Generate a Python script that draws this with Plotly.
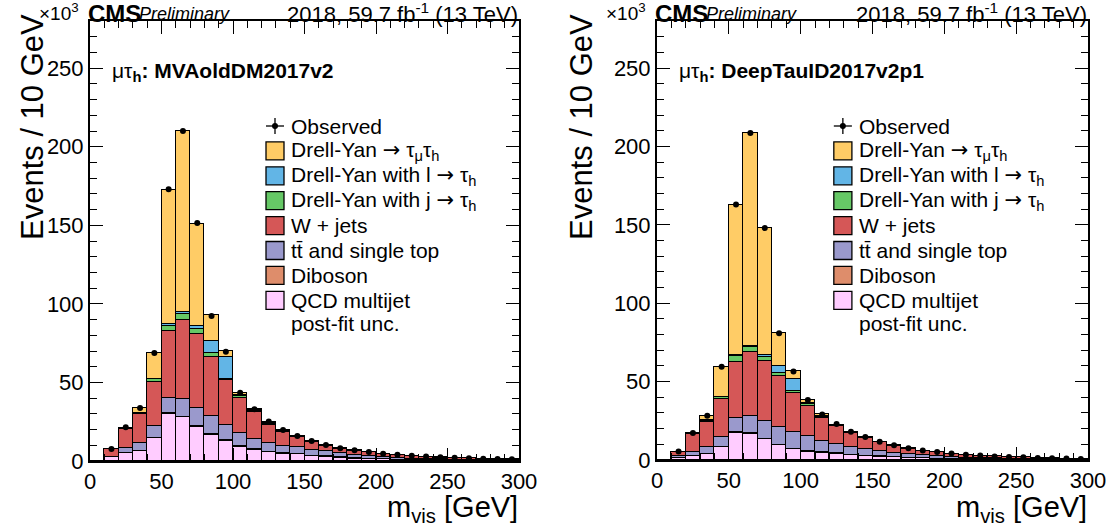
import plotly.graph_objects as go

W, H = 1112, 531
bin_lo = list(range(0, 300, 10))
bin_c = [b + 5 for b in bin_lo]

# ---------------- left panel: MVAoldDM2017v2 (values in 10^3 events) ----------------
qcd_L = [0, 2.3, 5.1, 6.3, 14.4, 30.2, 27.7, 21.8, 16.5, 12.9, 9.1, 7.0, 5.5, 4.7, 4.4, 3.2, 2.7, 2.1, 1.5, 1.2, 1.0, 0.8, 0.6, 0.5, 0.4, 0.35, 0.3, 0.25, 0.2, 0.2]
vv_L = [0, 0.05, 0.1, 0.15, 0.2, 0.3, 0.4, 0.5, 0.5, 0.5, 0.45, 0.4, 0.35, 0.3, 0.3, 0.25, 0.2, 0.2, 0.15, 0.15, 0.12, 0.1, 0.1, 0.08, 0.07, 0.06, 0.05, 0.05, 0.04, 0.04]
tt_L = [0, 0.25, 3.2, 5.15, 7.6, 9.9, 11.6, 11.5, 11.5, 9.6, 8.45, 6.5, 5.35, 4.7, 4.0, 3.55, 3.2, 2.6, 2.15, 1.65, 1.28, 1.0, 0.8, 0.62, 0.53, 0.39, 0.35, 0.3, 0.26, 0.16]
w_L = [0, 4.9, 11.9, 18.6, 28.1, 42.6, 49.8, 47.2, 37.9, 28.8, 22.0, 17.1, 12.0, 8.8, 6.6, 5.3, 3.7, 2.9, 2.8, 2.55, 2.1, 1.8, 1.6, 1.5, 1.22, 1.04, 0.95, 0.85, 0.76, 0.67]
dyj_L = [0, 0.0, 0.2, 0.4, 1.7, 3.0, 4.1, 3.2, 2.3, 0.7, 1.5, 0.8, 0.6, 0.5, 0.3, 0.2, 0.15, 0.1, 0.1, 0.08, 0.06, 0.05, 0.04, 0.04, 0.03, 0.03, 0.02, 0.02, 0.02, 0.02]
dyl_L = [0, 0.0, 0.1, 0.2, 0.3, 1.3, 1.3, 1.8, 7.8, 13.7, 0.8, 0.4, 0.5, 0.2, 0.2, 0.1, 0.1, 0.05, 0.05, 0.04, 0.03, 0.03, 0.02, 0.02, 0.02, 0.01, 0.01, 0.01, 0.01, 0.01]
dytt_L = [0, 0.1, 0.4, 3.0, 16.4, 85.0, 114.8, 65.1, 16.1, 3.6, 0.8, 0.6, 0.7, 0.3, 0.1, 0.1, 0.05, 0.05, 0.05, 0.03, 0.02, 0.02, 0.02, 0.02, 0.02, 0.01, 0.01, 0.01, 0.01, 0.01]
obs_L = [None, 7.6, 21.4, 33.8, 68.7, 173.0, 210.0, 151.5, 92.2, 69.5, 43.5, 33.0, 25.2, 19.7, 15.9, 12.8, 10.2, 8.1, 6.8, 5.7, 4.6, 3.9, 3.3, 2.8, 2.4, 2.0, 1.7, 1.5, 1.3, 1.1]

# ---------------- right panel: DeepTauID2017v2p1 ----------------
qcd_R = [0, 1.0, 2.5, 3.6, 8.4, 17.5, 16.9, 13.1, 9.3, 6.8, 5.3, 4.6, 3.8, 3.2, 2.5, 2.1, 1.7, 1.3, 1.0, 0.8, 0.6, 0.5, 0.4, 0.35, 0.3, 0.25, 0.2, 0.2, 0.15, 0.15]
vv_R = [0, 0.05, 0.1, 0.15, 0.2, 0.3, 0.4, 0.5, 0.5, 0.5, 0.45, 0.4, 0.35, 0.3, 0.3, 0.25, 0.2, 0.2, 0.15, 0.15, 0.12, 0.1, 0.1, 0.08, 0.07, 0.06, 0.05, 0.05, 0.04, 0.04]
tt_R = [0, 1.45, 2.7, 4.65, 6.2, 9.2, 10.7, 11.3, 11.1, 10.4, 9.45, 7.0, 5.95, 4.9, 4.4, 3.55, 2.7, 2.3, 1.85, 1.45, 1.18, 0.9, 0.7, 0.57, 0.43, 0.34, 0.3, 0.2, 0.16, 0.11]
w_R = [0, 2.8, 11.6, 15.9, 23.8, 35.8, 40.6, 38.0, 32.5, 24.9, 19.0, 15.0, 11.4, 8.9, 6.9, 5.3, 4.4, 3.35, 2.75, 2.57, 2.0, 1.82, 1.44, 1.25, 1.06, 1.02, 0.72, 0.62, 0.53, 0.38]
dyj_R = [0, 0, 0.05, 0.7, 1.4, 3.7, 3.4, 3.1, 2.1, 1.3, 1.3, 0.6, 0.5, 0.3, 0.25, 0.2, 0.15, 0.15, 0.08, 0.07, 0.05, 0.04, 0.03, 0.02, 0.02, 0.01, 0.01, 0.01, 0.01, 0.01]
dyl_R = [0, 0, 0.05, 0.2, 0.3, 0.6, 0.6, 0.9, 4.4, 7.8, 0.8, 0.5, 0.3, 0.2, 0.15, 0.1, 0.1, 0.05, 0.04, 0.04, 0.03, 0.02, 0.02, 0.02, 0.01, 0.01, 0.01, 0.01, 0.005, 0.005]
dytt_R = [0, 0, 0, 2.8, 19.2, 95.8, 135.8, 81.2, 20.9, 4.8, 2.1, 1.0, 0.3, 0.1, 0.1, 0.1, 0.05, 0.05, 0.03, 0.02, 0.02, 0.02, 0.01, 0.01, 0.01, 0.01, 0.01, 0.01, 0.005, 0.005]
obs_R = [None, 5.5, 17.3, 28.2, 59.5, 163.0, 208.5, 148.0, 80.8, 56.5, 38.2, 29.1, 23.0, 18.0, 14.7, 11.7, 9.4, 7.5, 6.0, 5.1, 4.1, 3.4, 2.8, 2.3, 1.9, 1.7, 1.3, 1.1, 0.9, 0.7]

ARROW = '<span style="font-family:DejaVu Sans">\u2192</span>'
names = ["QCD multijet", "Diboson", "tt\u0304 and single top", "W + jets",
         "Drell-Yan with j \u2192 \u03c4h", "Drell-Yan with l \u2192 \u03c4h",
         "Drell-Yan \u2192 \u03c4\u03bc\u03c4h"]
colors = ["#FFCCFF", "#DE8D6B", "#9A99CC", "#D55757", "#66C866", "#62B5E6", "#FFCC66"]
legend_labels = ["Drell-Yan " + ARROW + " \u03c4<sub>\u03bc</sub>\u03c4<sub>h</sub>",
                 "Drell-Yan with l " + ARROW + " \u03c4<sub>h</sub>",
                 "Drell-Yan with j " + ARROW + " \u03c4<sub>h</sub>",
                 "W + jets", "tt\u0304 and single top", "Diboson", "QCD multijet"]
legend_colors = ["#FFCC66", "#62B5E6", "#66C866", "#D55757", "#9A99CC", "#DE8D6B", "#FFCCFF"]

FONT = "Liberation Sans, Arial, sans-serif"
fig = go.Figure()

panels = [
    dict(xa="x", ya="y", comps=[qcd_L, vv_L, tt_L, w_L, dyj_L, dyl_L, dytt_L], obs=obs_L),
    dict(xa="x2", ya="y2", comps=[qcd_R, vv_R, tt_R, w_R, dyj_R, dyl_R, dytt_R], obs=obs_R),
]
for p in panels:
    for comp, nm, col in zip(p["comps"], names, colors):
        fig.add_trace(go.Bar(x=bin_c, y=comp, width=10, name=nm, xaxis=p["xa"], yaxis=p["ya"],
                             marker=dict(color=col, line=dict(color="black", width=1)),
                             showlegend=False))
    fig.add_trace(go.Scatter(x=bin_c, y=p["obs"], mode="markers", xaxis=p["xa"], yaxis=p["ya"],
                             marker=dict(color="black", size=6), showlegend=False, name="Observed"))

# plot areas in pixels
LX0, LX1, LY0, LY1 = 90, 519, 21, 461
RX0, RX1, RY0, RY1 = 657, 1088, 21, 460

def axis_common():
    return dict(showline=True, linecolor="black", linewidth=2, mirror="ticks",
                ticks="inside", ticklen=13, tickwidth=1.3, tickcolor="black",
                showgrid=False, zeroline=False, automargin=False,
                tickfont=dict(family=FONT, size=22, color="black"),
                minor=dict(ticks="inside", ticklen=7, tickwidth=1.2, tickcolor="black", dtick=10, showgrid=False))

ax = axis_common()
fig.update_layout(
    width=W, height=H, margin=dict(l=0, r=0, t=0, b=0, autoexpand=False),
    paper_bgcolor="white", plot_bgcolor="white",
    barmode="stack", bargap=0, showlegend=False,
    font=dict(family=FONT, color="black"),
    xaxis=dict(domain=[LX0 / W, LX1 / W], range=[0, 300], dtick=50, anchor="y", **ax),
    yaxis=dict(domain=[1 - LY1 / H, 1 - LY0 / H], range=[0, 280], dtick=50, anchor="x", **ax),
    xaxis2=dict(domain=[RX0 / W, RX1 / W], range=[0, 300], dtick=50, anchor="y2", **ax),
    yaxis2=dict(domain=[1 - RY1 / H, 1 - RY0 / H], range=[0, 280], dtick=50, anchor="x2", **ax),
)

shapes = []
annots = []

def px(x):
    return x / W

def py(y):
    return 1 - y / H

panel_info = [
    dict(x0=LX0, x1=LX1, y0=LY0, y1=LY1, ytitle_x=32, label="<b>: MVAoldDM2017v2</b>"),
    dict(x0=RX0, x1=RX1, y0=RY0, y1=RY1, ytitle_x=581, label="<b>: DeepTauID2017v2p1</b>"),
]
for pi in panel_info:
    sx = (pi["x1"] - pi["x0"]) / (LX1 - LX0)
    def mx(x):  # map left-panel pixel x to this panel
        return pi["x0"] + (x - LX0) * sx
    # header
    annots.append(dict(x=px(pi["x0"] - 9), y=py(12), xref="paper", yref="paper", xanchor="right", yanchor="middle",
                       text="\u00d710<sup>3</sup>", showarrow=False, font=dict(size=19, family=FONT)))
    annots.append(dict(x=px(pi["x0"] - 4), y=py(13), xref="paper", yref="paper", xanchor="left", yanchor="middle",
                       text="<b>CMS</b>", showarrow=False, font=dict(size=24, family=FONT)))
    annots.append(dict(x=px(pi["x0"] + 47), y=py(14), xref="paper", yref="paper", xanchor="left", yanchor="middle",
                       text="<i>Preliminary</i>", showarrow=False, font=dict(size=18, family=FONT)))
    annots.append(dict(x=px(pi["x1"] + 1), y=py(13), xref="paper", yref="paper", xanchor="right", yanchor="middle",
                       text="2018, 59.7 fb<sup>-1</sup> (13 TeV)", showarrow=False, font=dict(size=22, family=FONT)))
    # axis titles
    annots.append(dict(x=px(pi["ytitle_x"]), y=py(12), xref="paper", yref="paper", xanchor="center", yanchor="top",
                       text="Events / 10 GeV", textangle=-90, showarrow=False, font=dict(size=31, family=FONT)))
    annots.append(dict(x=px(pi["x1"] + 1), y=py(509), xref="paper", yref="paper", xanchor="right", yanchor="middle",
                       text="m<sub>vis</sub> [GeV]", showarrow=False, font=dict(size=29, family=FONT)))
    # category label
    annots.append(dict(x=px(mx(110)), y=py(72), xref="paper", yref="paper", xanchor="left", yanchor="middle",
                       text="\u03bc\u03c4<sub><b>h</b></sub>" + pi["label"], showarrow=False,
                       font=dict(size=21, family=FONT)))
    # legend
    step = 24.9
    y_obs = 126
    bx0, bx1 = mx(266), mx(284)
    tx = mx(289)
    cx = (bx0 + bx1) / 2
    shapes.append(dict(type="line", xref="paper", yref="paper", x0=px(bx0), x1=px(bx1), y0=py(y_obs), y1=py(y_obs),
                       line=dict(color="black", width=1.3)))
    shapes.append(dict(type="line", xref="paper", yref="paper", x0=px(cx), x1=px(cx), y0=py(y_obs - 8), y1=py(y_obs + 8),
                       line=dict(color="black", width=1.3)))
    shapes.append(dict(type="circle", xref="paper", yref="paper", x0=px(cx - 3), x1=px(cx + 3), y0=py(y_obs - 3),
                       y1=py(y_obs + 3), fillcolor="black", line=dict(color="black", width=0)))
    annots.append(dict(x=px(tx), y=py(y_obs), xref="paper", yref="paper", xanchor="left", yanchor="middle",
                       text="Observed", showarrow=False, font=dict(size=21, family=FONT)))
    for i, (lab, col) in enumerate(zip(legend_labels, legend_colors)):
        yc = y_obs + step * (i + 1)
        shapes.append(dict(type="rect", xref="paper", yref="paper", x0=px(bx0), x1=px(bx1), y0=py(yc - 9), y1=py(yc + 9),
                           fillcolor=col, line=dict(color="black", width=1.3)))
        annots.append(dict(x=px(tx), y=py(yc), xref="paper", yref="paper", xanchor="left", yanchor="middle",
                           text=lab, showarrow=False, font=dict(size=21, family=FONT)))
    annots.append(dict(x=px(tx), y=py(y_obs + step * 8 - 2), xref="paper", yref="paper", xanchor="left", yanchor="middle",
                       text="post-fit unc.", showarrow=False, font=dict(size=21, family=FONT)))

fig.update_layout(shapes=shapes, annotations=annots)
fig.write_html("out.html", config={"displayModeBar": False},
               post_script="document.body.style.margin='0px';document.body.style.overflow='hidden';")
